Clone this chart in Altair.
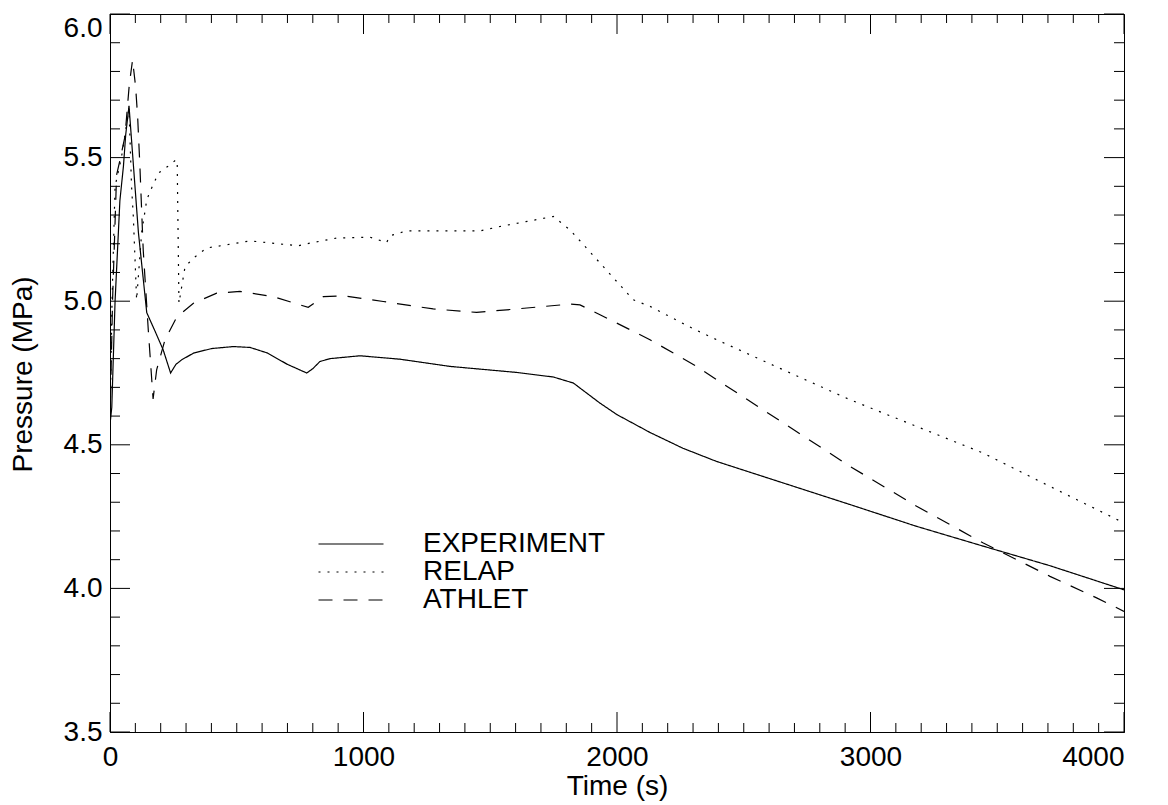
import altair as alt
import pandas as pd

# ---- data ----
exp_t = [0, 7, 20, 39, 53, 62, 75, 112, 145, 178, 210, 239, 260, 283, 329, 400, 486, 552, 620, 700,
         776, 800, 828, 868, 986, 1144, 1341, 1604, 1749, 1828, 1933, 2000, 2130, 2260, 2393, 2656,
         2919, 3182, 3445, 3708, 4000]
exp_p = [4.57, 4.63, 5.00, 5.35, 5.47, 5.58, 5.68, 5.24, 4.96, 4.895, 4.83, 4.75, 4.78, 4.796, 4.819,
         4.835, 4.842, 4.839, 4.82, 4.78, 4.75, 4.765, 4.79, 4.80, 4.81, 4.798, 4.773, 4.752, 4.736,
         4.715, 4.645, 4.605, 4.543, 4.488, 4.442, 4.367, 4.292, 4.216, 4.147, 4.079, 3.995]

relap_t = [0, 8, 20, 45, 75, 85, 92, 105, 125, 145, 158, 191, 237, 260, 265, 272, 296, 329, 381, 552,
           743, 776, 894, 1026, 1091, 1105, 1170, 1460, 1538, 1749, 1815, 1933, 2064, 2130, 2301, 2393,
           2656, 2919, 3182, 3445, 3708, 4000]
relap_p = [4.57, 5.00, 5.40, 5.50, 5.67, 5.40, 5.295, 5.005, 5.24, 5.353, 5.382, 5.446, 5.475, 5.492,
           5.49, 4.993, 5.12, 5.15, 5.185, 5.21, 5.193, 5.20, 5.22, 5.223, 5.204, 5.228, 5.245, 5.245,
           5.26, 5.295, 5.248, 5.133, 5.005, 4.982, 4.904, 4.866, 4.761, 4.657, 4.564, 4.471, 4.355,
           4.228]

athlet_t = [0, 10, 26, 39, 59, 76, 89, 101, 109, 118, 131, 151, 170, 184, 217, 263, 329, 421, 513, 644,
            750, 782, 842, 920, 1078, 1275, 1446, 1604, 1815, 1854, 1933, 2130, 2314, 2393, 2656, 2919,
            3182, 3445, 3577, 3708, 3892, 4000]
athlet_p = [4.57, 5.00, 5.44, 5.49, 5.573, 5.753, 5.84, 5.747, 5.643, 5.469, 5.179, 4.90, 4.66, 4.761,
            4.866, 4.944, 4.993, 5.028, 5.034, 5.016, 4.987, 4.979, 5.016, 5.019, 4.999, 4.973, 4.961,
            4.973, 4.99, 4.987, 4.953, 4.866, 4.773, 4.727, 4.576, 4.425, 4.286, 4.158, 4.10, 4.042,
            3.967, 3.92]

series_names = ["EXPERIMENT", "RELAP", "ATHLET"]
x_major = [0, 1000, 2000, 3000, 4000]
x_minor = [v for v in range(0, 4001, 100) if v % 1000 != 0]
y_major = [3.5, 4.0, 4.5, 5.0, 5.5, 6.0]
y_minor = [round(3.5 + 0.1 * i, 1) for i in range(26) if i % 5 != 0]

W, H = 1014, 718
FONT = "Liberation Sans"

rows = []
for name, ts, ps in [("EXPERIMENT", exp_t, exp_p), ("RELAP", relap_t, relap_p), ("ATHLET", athlet_t, athlet_p)]:
    for t, p in zip(ts, ps):
        rows.append({"series": name, "t": t, "p": p})
df = pd.DataFrame(rows)

xscale = alt.Scale(domain=[0, 4000], nice=False, zero=False)
yscale = alt.Scale(domain=[3.5, 6.0], nice=False, zero=False)

xaxis = alt.Axis(values=x_major, format="d", title="Time (s)", tickSize=0, grid=False,
                 labelFontSize=28, labelFont=FONT, labelColor="black", labelPadding=11,
                 labelAlign={"condition": {"test": "datum.value >= 4000", "value": "right"}, "value": "center"},
                 titleFontSize=28, titleFont=FONT, titleFontWeight="normal", titleColor="black",
                 titleX=W / 2, titleY=54, titleBaseline="middle", titleAlign="center",
                 domainColor="black", labelFlush=False)
yaxis = alt.Axis(values=y_major, format=".1f", title="Pressure (MPa)", tickSize=0, grid=False,
                 labelFontSize=28, labelFont=FONT, labelColor="black", labelPadding=8,
                 labelBaseline={"condition": {"test": "datum.value >= 6", "value": "top"}, "value": "middle"},
                 titleFontSize=28, titleFont=FONT, titleFontWeight="normal", titleColor="black",
                 titleX=-87, titleY=H / 2 + 1, titleAngle=-90, titleBaseline="middle", titleAlign="center",
                 domainColor="black")

lines = alt.Chart(df).mark_line(color="black", strokeWidth=1.2, clip=True).encode(
    x=alt.X("t:Q", scale=xscale, axis=xaxis),
    y=alt.Y("p:Q", scale=yscale, axis=yaxis),
    strokeDash=alt.StrokeDash(
        "series:N",
        scale=alt.Scale(domain=series_names, range=[[1, 0], [2, 7], [14, 11]]),
        legend=alt.Legend(title=None, orient="none", legendX=227, legendY=516,
                          symbolType="M-2.5,0H2.5", symbolSize=676, symbolStrokeWidth=1.2,
                          symbolStrokeColor="black", labelFontSize=28, labelFont=FONT,
                          labelColor="black", labelOffset=58, labelLimit=0, rowPadding=0, padding=0),
    ),
    order="t:Q",
)

def xticks(vals, length):
    d = pd.DataFrame({"v": vals})
    top = alt.Chart(d).mark_rule(color="black", strokeWidth=1).encode(
        x=alt.X("v:Q", scale=xscale), y=alt.value(0), y2=alt.value(length))
    bot = alt.Chart(d).mark_rule(color="black", strokeWidth=1).encode(
        x=alt.X("v:Q", scale=xscale), y=alt.value(H), y2=alt.value(H - length))
    return [top, bot]

def yticks(vals, length):
    d = pd.DataFrame({"v": vals})
    left = alt.Chart(d).mark_rule(color="black", strokeWidth=1).encode(
        y=alt.Y("v:Q", scale=yscale), x=alt.value(0), x2=alt.value(length))
    right = alt.Chart(d).mark_rule(color="black", strokeWidth=1).encode(
        y=alt.Y("v:Q", scale=yscale), x=alt.value(W), x2=alt.value(W - length))
    return [left, right]

layers = [lines] + xticks(x_major, 20) + xticks(x_minor, 9) + yticks(y_major, 20) + yticks(y_minor, 10)

chart = alt.layer(*layers).properties(
    width=W, height=H,
    autosize=alt.AutoSizeParams(type="none"),
    padding={"left": 110, "top": 14, "right": 44, "bottom": 73},
    background="white",
).configure_view(stroke="black", strokeWidth=1).configure_axis(domainWidth=1)

chart.save("out.html", embed_options={"renderer": "svg", "actions": False})
